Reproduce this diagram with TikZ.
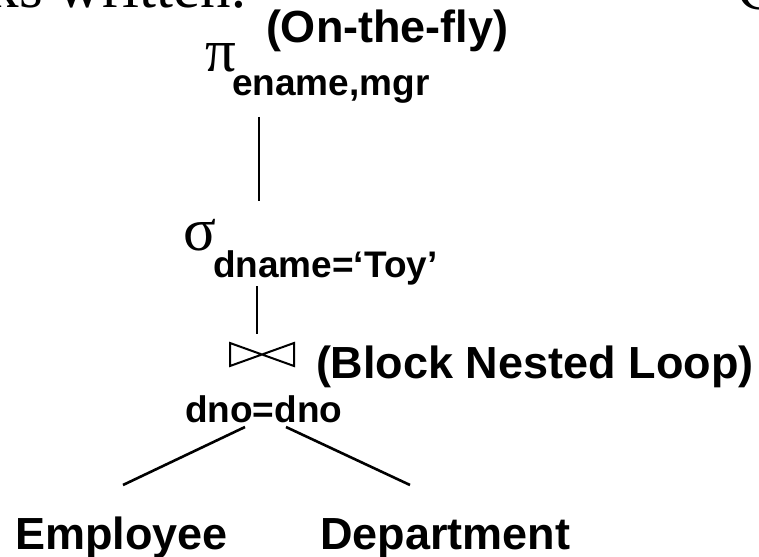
\documentclass[tikz,border=0pt]{standalone}
\usepackage{fontspec}
\setmainfont{Liberation Serif}
\setsansfont{Liberation Sans}
\newcommand{\fsz}[1]{\fontsize{#1}{#1}\selectfont}
\tikzset{
  txt/.style={anchor=base west, inner sep=0pt, outer sep=0pt},
  bigserif/.style={txt, font=\rmfamily\fsz{61}},
  lblbig/.style={txt, font=\sffamily\bfseries\fsz{45}},
  lblsub/.style={txt, font=\sffamily\bfseries\fsz{37}},
  edge/.style={line width=2.6pt},
  bowtie/.style={line width=2pt, line join=miter},
}
\begin{document}
\begin{tikzpicture}[x=1pt,y=-1pt]
\useasboundingbox (0,0) rectangle (759,556);
\clip (0,0) rectangle (759,556);
% clipped slide text at the top
\node[bigserif] (hdr) at (-11.5,8) {ks written:};
\node[bigserif] (hdrc) at (737,10) {C};
% projection
\node[lblbig] (otf) at (266,43) {(On-the-fly)};
\node[bigserif] (pi) at (205,72) {π};
\node[lblsub] (proj) at (232,96) {ename,mgr};
% selection
\node[bigserif] (sigma) at (183,250) {σ};
\node[lblsub] (sel) at (213,277) {dname=‘Toy’};
% join
\coordinate (join) at (262,354.5);
\draw[bowtie, shift={(join)}] (-32,-11.5) -- (-32,11.5) -- (32,-11.5) -- (32,11.5) -- cycle;
\node[lblbig] (bnl) at (316,378) {(Block Nested Loop)};
\node[lblsub] (cond) at (185,422) {dno=dno};
% relations
\node[lblbig] (emp) at (15,549) {Employee};
\node[lblbig] (dept) at (320,549) {Department};
% connector end points
\coordinate (p1) at (259,117);
\coordinate (s1) at (259,201);
\coordinate (s2) at (257,286);
\coordinate (j1) at (257,334);
\coordinate (jl) at (245,427);
\coordinate (el) at (123,485);
\coordinate (jr) at (286,427);
\coordinate (dr) at (410,485);
\draw[edge] (p1) -- (s1);
\draw[edge] (s2) -- (j1);
\draw[edge] (jl) -- (el);
\draw[edge] (jr) -- (dr);
\end{tikzpicture}
\end{document}
